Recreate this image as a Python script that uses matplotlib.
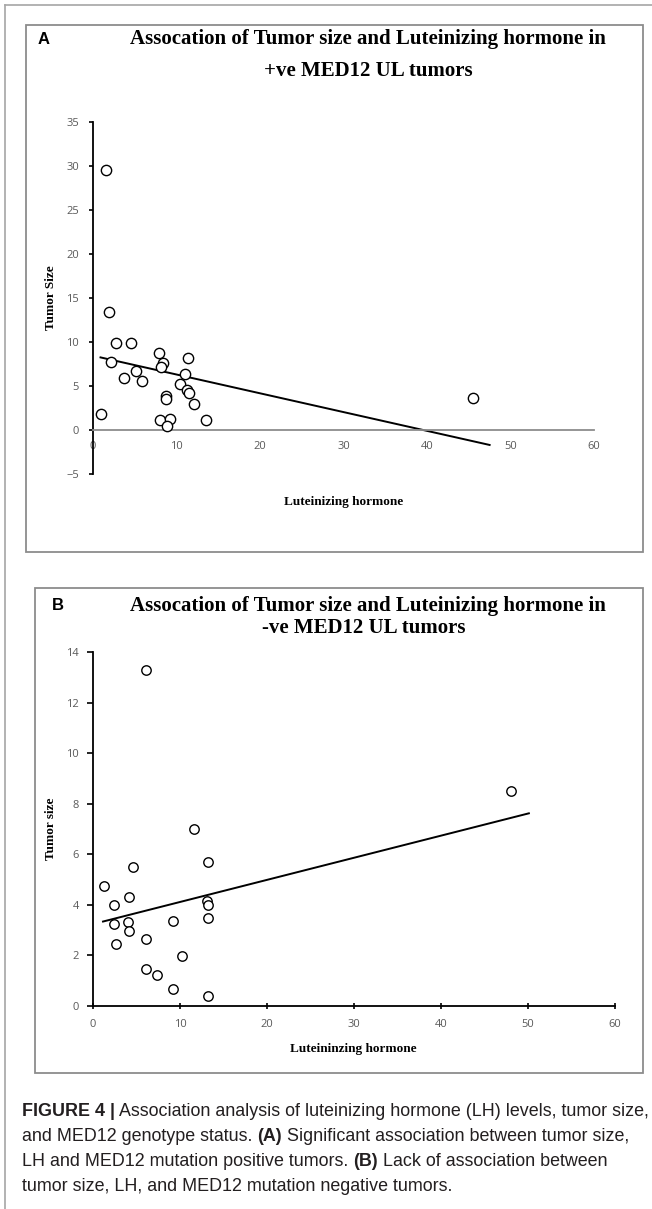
import matplotlib.pyplot as plt
from matplotlib.patches import Rectangle
from matplotlib.lines import Line2D

# Panel A: MED12 mutation positive tumors
a_lh = [1.56, 1.9, 2.8, 4.5, 2.1, 3.75, 5.15, 5.9, 0.92, 7.95, 8.35, 8.1, 11.4,
        11.0, 10.4, 11.2, 11.5, 8.75, 8.7, 12.1, 8.0, 9.2, 8.9, 13.5, 45.5]
a_size = [29.6, 13.4, 9.9, 9.9, 7.7, 5.9, 6.7, 5.6, 1.8, 8.75, 7.6, 7.2, 8.2,
          6.4, 5.2, 4.5, 4.2, 3.9, 3.5, 2.9, 1.1, 1.3, 0.5, 1.1, 3.6]
a_trend_x = [0.9, 47.5]
a_trend_y = [8.25, -1.7]
a_xticks = [0, 10, 20, 30, 40, 50, 60]
a_yticks = [-5, 0, 5, 10, 15, 20, 25, 30, 35]

# Panel B: MED12 mutation negative tumors
b_lh = [1.22, 2.37, 2.37, 2.67, 4.6, 4.13, 4.05, 4.13, 6.08, 6.08, 7.35, 9.14,
        9.25, 10.25, 13.27, 13.16, 13.27, 13.27, 13.2, 6.08, 11.63, 48.1]
b_size = [4.74, 3.99, 3.24, 2.47, 5.5, 4.32, 3.31, 2.97, 2.63, 1.48, 1.22, 0.67,
          3.37, 1.97, 5.69, 4.16, 3.99, 3.5, 0.41, 13.3, 7.0, 8.51]
b_trend_x = [1.15, 50.1]
b_trend_y = [3.34, 7.62]
b_xticks = [0, 10, 20, 30, 40, 50, 60]
b_yticks = [0, 2, 4, 6, 8, 10, 12, 14]

plt.rcParams['font.family'] = ['Open Sans', 'DejaVu Sans']

W, H = 652, 1209
fig = plt.figure(figsize=(W / 100, H / 100), dpi=100)


def fx(x):
    return x / W


def fy(y):
    return 1 - y / H


def box(l, t, r, b, color='#8c8c8c', lw=1.3):
    fig.add_artist(Rectangle((fx(l), fy(b)), (r - l) / W, (b - t) / H,
                             transform=fig.transFigure, fill=False,
                             edgecolor=color, linewidth=lw))


def axes_px(l, t, r, b):
    return fig.add_axes([fx(l), fy(b), (r - l) / W, (b - t) / H])


serif_bold = dict(family='Liberation Serif', weight='bold', color='black')
tick_color = '#595959'

# outer frame (left and top edges only)
fig.add_artist(Line2D([fx(5), fx(5)], [fy(5), 0], transform=fig.transFigure,
                      color='#a6a6a6', lw=1.2))
fig.add_artist(Line2D([fx(5), 1], [fy(5), fy(5)], transform=fig.transFigure,
                      color='#a6a6a6', lw=1.2))

# ---------- panel A ----------
box(26, 25, 643, 552)
fig.text(fx(44), fy(39), "A", ha='center', va='center', family='Liberation Sans',
         weight='bold', size=12)
fig.text(fx(368), fy(39), "Assocation of Tumor size and Luteinizing hormone in",
         ha='center', va='center', size=15, **serif_bold)
fig.text(fx(368), fy(71), "+ve MED12 UL tumors", ha='center', va='center',
         size=15, **serif_bold)

ax = axes_px(93, 122, 594, 474)
ax.scatter(a_lh, a_size, s=55, facecolors='white', edgecolors='black',
           linewidths=1.0, zorder=3)
ax.plot(a_trend_x, a_trend_y, color='black', lw=1.4, zorder=2)
ax.set_xlim(0, 60)
ax.set_ylim(-5, 35)
ax.set_xticks(a_xticks)
ax.set_yticks(a_yticks)
ax.spines['top'].set_visible(False)
ax.spines['right'].set_visible(False)
ax.spines['bottom'].set_position(('data', 0))
ax.spines['bottom'].set_color('#8c8c8c')
ax.spines['bottom'].set_linewidth(1.3)
ax.spines['left'].set_color('black')
ax.spines['left'].set_linewidth(1.3)
ax.tick_params(axis='x', length=0, pad=8, labelsize=8, labelcolor=tick_color)
ax.tick_params(axis='y', length=3, width=1.2, pad=7, labelsize=8,
               labelcolor=tick_color)
ax.set_xlabel("Luteinizing hormone", size=9.5, **serif_bold)
ax.xaxis.set_label_coords((344 - 93) / 501, (474 - 496) / 352)
ax.set_ylabel("Tumor Size", size=9.5, **serif_bold)
ax.yaxis.set_label_coords((57 - 93) / 501, 0.5)

# ---------- panel B ----------
box(35, 588, 643, 1073)
fig.text(fx(58), fy(606), "B", ha='center', va='center', family='Liberation Sans',
         weight='bold', size=12)
fig.text(fx(368), fy(606), "Assocation of Tumor size and Luteinizing hormone in",
         ha='center', va='center', size=15, **serif_bold)
fig.text(fx(364), fy(628), "-ve MED12 UL tumors", ha='center', va='center',
         size=15, **serif_bold)

bx = axes_px(93, 652, 615, 1006)
bx.scatter(b_lh, b_size, s=46, facecolors='white', edgecolors='black',
           linewidths=1.0, zorder=3)
bx.plot(b_trend_x, b_trend_y, color='black', lw=1.4, zorder=2)
bx.set_xlim(0, 60)
bx.set_ylim(0, 14)
bx.set_xticks(b_xticks)
bx.set_yticks(b_yticks)
bx.spines['top'].set_visible(False)
bx.spines['right'].set_visible(False)
for side in ['left', 'bottom']:
    bx.spines[side].set_color('black')
    bx.spines[side].set_linewidth(1.3)
bx.tick_params(axis='x', direction='inout', length=5, width=1.2, pad=7,
               labelsize=8, labelcolor=tick_color)
bx.tick_params(axis='y', length=4, width=1.2, pad=6, labelsize=8,
               labelcolor=tick_color)
bx.set_xlabel("Luteininzing hormone", size=9.5, **serif_bold)
bx.xaxis.set_label_coords((353 - 93) / 522, (1006 - 1043) / 354)
bx.set_ylabel("Tumor size", size=9.5, **serif_bold)
bx.yaxis.set_label_coords((57 - 93) / 522, 0.5)

# ---------- caption ----------
cap_lines = [
    [("FIGURE 4 |", True), (" Association analysis of luteinizing hormone (LH) levels, tumor size,", False)],
    [("and MED12 genotype status. ", False), ("(A)", True), (" Significant association between tumor size,", False)],
    [("LH and MED12 mutation positive tumors. ", False), ("(B)", True), (" Lack of association between", False)],
    [("tumor size, LH, and MED12 mutation negative tumors.", False)],
]
cap_y = [1116, 1141, 1166, 1191]

renderer = fig.canvas.get_renderer()
for parts, y in zip(cap_lines, cap_y):
    x = fx(22)
    for text, bold in parts:
        t = fig.text(x, fy(y), text, ha='left', va='baseline',
                     family='Liberation Sans', size=12.9, color='#231f20',
                     weight='bold' if bold else 'normal')
        bb = t.get_window_extent(renderer)
        x = bb.x1 / fig.bbox.width

fig.savefig("out.png", dpi=100)
